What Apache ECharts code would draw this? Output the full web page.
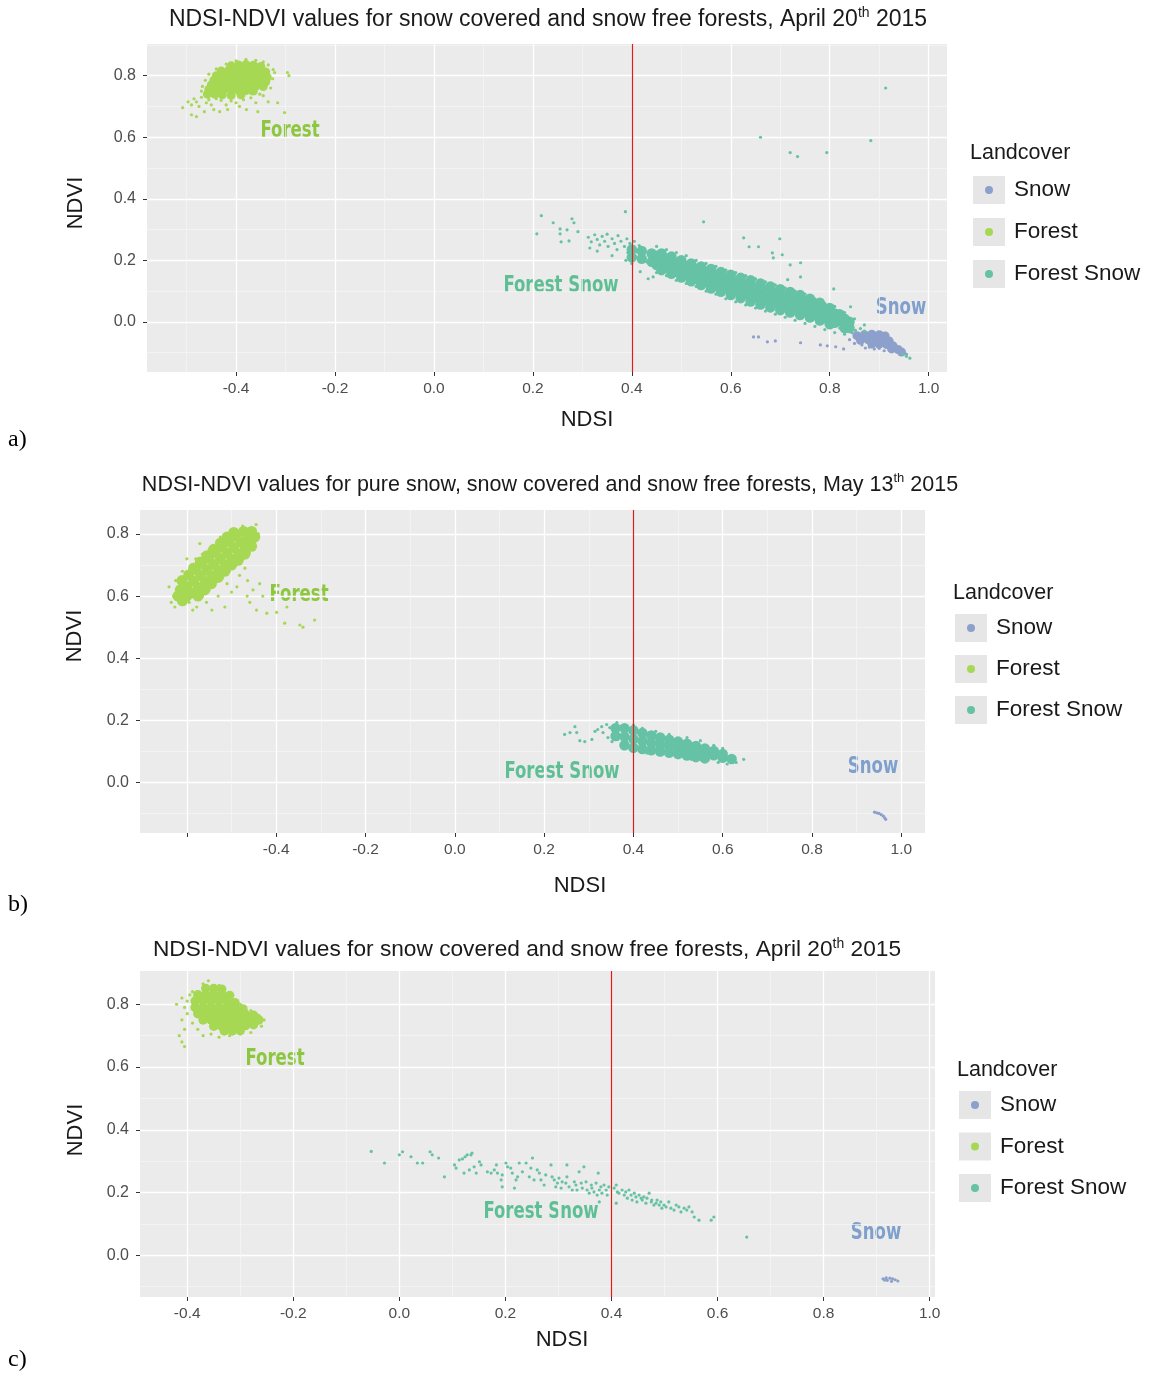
<!DOCTYPE html>
<html>
<head>
<meta charset="utf-8">
<script src="https://cdn.jsdelivr.net/npm/echarts@6/dist/echarts.min.js"></script>
<style>
  html, body { margin: 0; padding: 0; background: #fff; }
  #chart { width: 1151px; height: 1376px; }
</style>
</head>
<body>
<div id="chart"></div>
<script>
// Landcover classes and threshold
const landcovers = ['Snow', 'Forest', 'Forest Snow'];
const ndsiThreshold = 0.4;

// Tick values
const xTicks = [-0.4, -0.2, 0, 0.2, 0.4, 0.6, 0.8, 1.0];
const xTicksB = [-0.6, -0.4, -0.2, 0, 0.2, 0.4, 0.6, 0.8, 1.0];
const xMinor = [-0.5, -0.3, -0.1, 0.1, 0.3, 0.5, 0.7, 0.9];
const xMinorC = [-0.3, -0.1, 0.1, 0.3, 0.5, 0.7, 0.9];
const yTicks = [0, 0.2, 0.4, 0.6, 0.8];
const yMinor = [-0.1, 0.1, 0.3, 0.5, 0.7];
const yMinorA = [-0.1, 0.1, 0.3, 0.5, 0.7, 0.9];

// ---------- a) April 20th ----------
const forestCoreA = [
  [-0.41,0.832],[-0.395,0.835],[-0.38,0.836],[-0.365,0.834],[-0.35,0.83],
  [-0.43,0.815],[-0.415,0.818],[-0.40,0.82],[-0.385,0.82],[-0.37,0.818],[-0.355,0.816],[-0.34,0.812],
  [-0.44,0.80],[-0.425,0.80],[-0.41,0.802],[-0.395,0.80],[-0.38,0.80],[-0.365,0.80],[-0.35,0.798],[-0.337,0.795],
  [-0.445,0.785],[-0.43,0.785],[-0.415,0.786],[-0.40,0.785],[-0.385,0.785],[-0.37,0.784],[-0.355,0.782],[-0.34,0.78],
  [-0.45,0.77],[-0.435,0.77],[-0.42,0.77],[-0.405,0.77],[-0.39,0.768],[-0.375,0.768],[-0.36,0.766],[-0.345,0.765],
  [-0.455,0.755],[-0.44,0.755],[-0.425,0.755],[-0.41,0.754],[-0.395,0.752],[-0.38,0.752],[-0.365,0.75],
  [-0.458,0.74],[-0.443,0.74],[-0.428,0.738],[-0.41,0.736],[-0.39,0.738]
];
const forestA = [
  [-0.508,0.696],[-0.49,0.673],[-0.48,0.667],[-0.464,0.683],[-0.433,0.683],[-0.417,0.69],[-0.393,0.70],
  [-0.379,0.69],[-0.356,0.683],[-0.316,0.712],[-0.302,0.68],[-0.296,0.81],[-0.322,0.81],[-0.293,0.80],
  [-0.47,0.73],[-0.48,0.715],[-0.49,0.705],[-0.475,0.70],[-0.46,0.712],[-0.45,0.705],[-0.445,0.69],
  [-0.43,0.72],[-0.42,0.705],[-0.41,0.718],[-0.40,0.712],[-0.385,0.722],[-0.37,0.728],[-0.36,0.712],
  [-0.345,0.735],[-0.335,0.715],[-0.33,0.76],[-0.326,0.79],[-0.325,0.82],[-0.335,0.835],[-0.345,0.845],
  [-0.36,0.85],[-0.38,0.853],[-0.40,0.848],[-0.42,0.838],[-0.44,0.822],[-0.455,0.805],[-0.462,0.785],
  [-0.468,0.765],[-0.47,0.75],[-0.485,0.725],[-0.497,0.715],[-0.455,0.722],[-0.44,0.725],[-0.352,0.74],[-0.37,0.742]
];
const forestSnowCoreA = [
  [0.40,0.235],[0.40,0.21],[0.42,0.23],[0.42,0.205],
  [0.44,0.222],[0.44,0.195],
  [0.46,0.222],[0.46,0.195],[0.46,0.168],
  [0.48,0.212],[0.48,0.184],[0.48,0.156],
  [0.50,0.20],[0.50,0.172],[0.50,0.144],
  [0.52,0.19],[0.52,0.161],[0.52,0.132],
  [0.54,0.18],[0.54,0.150],[0.54,0.12],
  [0.56,0.172],[0.56,0.140],[0.56,0.108],
  [0.58,0.162],[0.58,0.130],[0.58,0.098],
  [0.60,0.153],[0.60,0.120],[0.60,0.087],
  [0.62,0.143],[0.62,0.110],[0.62,0.077],
  [0.64,0.135],[0.64,0.100],[0.64,0.066],
  [0.66,0.125],[0.66,0.090],[0.66,0.056],
  [0.68,0.115],[0.68,0.081],[0.68,0.047],
  [0.70,0.106],[0.70,0.072],[0.70,0.038],
  [0.72,0.097],[0.72,0.064],[0.72,0.030],
  [0.74,0.087],[0.74,0.055],[0.74,0.022],
  [0.76,0.075],[0.76,0.045],[0.76,0.014],
  [0.78,0.062],[0.78,0.033],[0.78,0.004],
  [0.80,0.045],[0.80,0.018],[0.80,-0.008],
  [0.82,0.025],[0.82,0.002],
  [0.84,0.0],[0.84,-0.02],
  [0.45,0.215],[0.45,0.185],[0.47,0.205],[0.47,0.175],[0.49,0.193],[0.49,0.163],[0.51,0.181],[0.51,0.151],
  [0.53,0.17],[0.53,0.14],[0.55,0.16],[0.55,0.13],[0.57,0.15],[0.57,0.12],[0.59,0.14],[0.59,0.11],
  [0.61,0.13],[0.61,0.10],[0.63,0.12],[0.63,0.09],[0.65,0.11],[0.65,0.08],[0.67,0.10],[0.67,0.07],
  [0.69,0.091],[0.69,0.061],[0.71,0.083],[0.71,0.053],[0.73,0.075],[0.73,0.045],[0.75,0.065],[0.75,0.035],
  [0.77,0.055],[0.77,0.025],[0.79,0.042],[0.79,0.012],[0.81,0.027],[0.81,-0.003],[0.83,0.01],[0.83,-0.02]
];
const forestSnowA = [
  [0.312,0.275],[0.318,0.26],[0.325,0.283],[0.33,0.268],[0.335,0.25],[0.34,0.278],[0.345,0.262],[0.35,0.285],
  [0.352,0.245],[0.36,0.27],[0.365,0.255],[0.37,0.235],[0.372,0.28],[0.378,0.262],[0.385,0.245],[0.39,0.27],
  [0.392,0.225],[0.396,0.255],[0.40,0.24],[0.402,0.205],[0.405,0.262],[0.41,0.228],[0.415,0.248],[0.42,0.21],
  [0.425,0.238],[0.43,0.195],[0.315,0.24],[0.33,0.23],[0.36,0.215],[0.388,0.20],[0.40,0.19],
  [0.217,0.345],[0.241,0.322],[0.255,0.302],[0.269,0.299],[0.279,0.335],[0.283,0.322],[0.291,0.293],
  [0.255,0.286],[0.273,0.263],[0.257,0.26],[0.208,0.286],[0.387,0.358],[0.545,0.325],[0.626,0.273],
  [0.637,0.244],[0.656,0.244],[0.699,0.27],[0.684,0.224],[0.686,0.208],[0.704,0.218],[0.72,0.185],
  [0.741,0.192],[0.741,0.146],[0.715,0.137],[0.808,0.107],[0.842,0.049],[0.433,0.14],[0.443,0.146],[0.417,0.163],
  [0.66,0.60],[0.72,0.55],[0.735,0.537],[0.794,0.55],[0.883,0.589],[0.913,0.76],
  [0.45,0.245],[0.47,0.235],[0.49,0.225],[0.51,0.215],[0.53,0.20],[0.55,0.19],[0.57,0.18],[0.59,0.168],
  [0.61,0.16],[0.63,0.15],[0.65,0.14],[0.67,0.13],[0.69,0.12],[0.71,0.11],[0.73,0.10],[0.75,0.09],
  [0.77,0.075],[0.79,0.06],[0.81,0.05],[0.83,0.03],[0.85,0.01],[0.87,-0.01],
  [0.45,0.16],[0.47,0.15],[0.49,0.135],[0.51,0.125],[0.53,0.115],[0.55,0.10],[0.57,0.09],[0.59,0.075],
  [0.61,0.065],[0.63,0.055],[0.65,0.045],[0.67,0.035],[0.69,0.025],[0.71,0.015],[0.73,0.005],[0.75,-0.005],
  [0.77,-0.015],[0.79,-0.025],[0.81,-0.035],[0.83,-0.04],
  [0.84,-0.02],[0.852,-0.028],[0.862,-0.022],[0.87,-0.03],[0.948,-0.105],[0.955,-0.112],[0.962,-0.118],
  [0.82,-0.02],[0.83,-0.035]
];
const snowCoreA = [
  [0.855,-0.045],[0.87,-0.042],[0.885,-0.04],[0.90,-0.042],[0.912,-0.046],
  [0.862,-0.06],[0.877,-0.058],[0.892,-0.056],[0.907,-0.058],[0.92,-0.062],
  [0.885,-0.072],[0.90,-0.072],[0.915,-0.074],[0.928,-0.078],
  [0.925,-0.088],[0.938,-0.09],[0.945,-0.098]
];
const snowA = [
  [0.85,-0.07],[0.865,-0.075],[0.872,-0.085],[0.88,-0.082],[0.89,-0.088],[0.90,-0.086],[0.91,-0.094],
  [0.955,-0.105],[0.84,-0.058],[0.845,-0.035],[0.646,-0.049],[0.656,-0.049],[0.674,-0.065],[0.69,-0.062],
  [0.741,-0.068],[0.781,-0.075],[0.795,-0.078],[0.812,-0.081],[0.828,-0.088]
];

// ---------- b) May 13th ----------
const forestCoreB = [
  [-0.60,0.63],[-0.589,0.61],[-0.611,0.65],[-0.60,0.60],[-0.615,0.62],[-0.62,0.60],[-0.61,0.585],
  [-0.585,0.648],[-0.574,0.628],[-0.596,0.668],
  [-0.57,0.666],[-0.559,0.646],[-0.581,0.686],
  [-0.555,0.684],[-0.544,0.664],[-0.566,0.704],
  [-0.54,0.702],[-0.529,0.682],[-0.551,0.722],
  [-0.525,0.72],[-0.514,0.70],[-0.536,0.74],
  [-0.51,0.738],[-0.499,0.718],[-0.521,0.758],
  [-0.495,0.756],[-0.484,0.736],[-0.506,0.776],
  [-0.48,0.774],[-0.469,0.754],[-0.491,0.794],
  [-0.465,0.792],[-0.458,0.775],[-0.473,0.808],
  [-0.455,0.808],
  [-0.585,0.69],[-0.57,0.71],[-0.555,0.73],[-0.54,0.75],[-0.525,0.77],[-0.51,0.79],[-0.495,0.805],
  [-0.575,0.60],[-0.56,0.62],[-0.545,0.64],[-0.53,0.66],[-0.515,0.68],[-0.50,0.70],[-0.485,0.715],
  [-0.47,0.735],[-0.455,0.76],[-0.448,0.79]
];
const forestB = [
  [-0.63,0.60],[-0.635,0.58],[-0.627,0.565],[-0.616,0.58],[-0.587,0.555],[-0.578,0.565],[-0.544,0.555],
  [-0.515,0.565],[-0.556,0.58],[-0.50,0.613],[-0.488,0.63],[-0.482,0.667],[-0.464,0.65],[-0.437,0.64],
  [-0.452,0.62],[-0.459,0.58],[-0.444,0.555],[-0.421,0.545],[-0.399,0.548],[-0.381,0.513],[-0.347,0.507],
  [-0.34,0.50],[-0.314,0.523],[-0.376,0.565],[-0.571,0.769],[-0.542,0.763],[-0.525,0.79],[-0.50,0.81],
  [-0.475,0.825],[-0.445,0.83],[-0.44,0.80],[-0.45,0.77],[-0.46,0.74],[-0.475,0.72],[-0.49,0.70],
  [-0.505,0.68],[-0.52,0.66],[-0.535,0.645],[-0.55,0.62],[-0.565,0.60],[-0.58,0.59],[-0.595,0.58],
  [-0.60,0.72],[-0.59,0.70],[-0.58,0.72],[-0.565,0.735],[-0.55,0.75],[-0.61,0.68],[-0.625,0.65],
  [-0.64,0.63],[-0.53,0.60],[-0.51,0.64],[-0.47,0.69],[-0.465,0.60],[-0.43,0.60]
];
const forestSnowCoreB = [
  [0.36,0.175],[0.36,0.15],
  [0.38,0.175],[0.38,0.148],[0.38,0.12],
  [0.40,0.168],[0.40,0.14],[0.40,0.112],
  [0.42,0.16],[0.42,0.134],[0.42,0.108],
  [0.44,0.152],[0.44,0.128],[0.44,0.104],
  [0.46,0.145],[0.46,0.122],[0.46,0.10],
  [0.48,0.138],[0.48,0.117],[0.48,0.096],
  [0.50,0.132],[0.50,0.112],[0.50,0.092],
  [0.52,0.125],[0.52,0.106],[0.52,0.087],
  [0.54,0.118],[0.54,0.10],[0.54,0.082],
  [0.56,0.11],[0.56,0.094],[0.56,0.078],
  [0.58,0.102],[0.58,0.088],
  [0.60,0.092],[0.60,0.08],
  [0.62,0.076]
];
const forestSnowB = [
  [0.246,0.155],[0.258,0.161],[0.269,0.18],[0.273,0.161],[0.28,0.135],[0.291,0.132],[0.307,0.139],
  [0.314,0.165],[0.32,0.171],[0.329,0.18],[0.332,0.161],[0.34,0.187],[0.347,0.177],[0.363,0.193],
  [0.37,0.18],[0.376,0.171],[0.358,0.161],[0.343,0.145],[0.352,0.132],[0.365,0.139],[0.381,0.148],[0.385,0.129],
  [0.40,0.185],[0.42,0.175],[0.45,0.165],[0.48,0.155],[0.52,0.145],[0.55,0.135],[0.58,0.12],[0.60,0.11],
  [0.40,0.10],[0.43,0.095],[0.46,0.09],[0.50,0.08],[0.53,0.075],[0.56,0.07],[0.59,0.065],[0.61,0.06],
  [0.625,0.07],[0.63,0.065],[0.647,0.075]
];
const snowB = [
  [0.940,-0.095],[0.945,-0.097],[0.950,-0.099],[0.955,-0.103],[0.960,-0.108],[0.963,-0.114],[0.965,-0.118]
];

// ---------- c) April 20th ----------
const forestCoreC = [
  [-0.365,0.85],[-0.35,0.85],[-0.335,0.848],
  [-0.38,0.83],[-0.365,0.83],[-0.35,0.83],[-0.335,0.83],[-0.32,0.828],
  [-0.385,0.81],[-0.37,0.81],[-0.355,0.81],[-0.34,0.81],[-0.325,0.81],[-0.31,0.805],
  [-0.385,0.79],[-0.37,0.79],[-0.355,0.79],[-0.34,0.79],[-0.325,0.79],[-0.31,0.79],[-0.295,0.785],
  [-0.38,0.77],[-0.365,0.77],[-0.35,0.77],[-0.335,0.77],[-0.32,0.77],[-0.305,0.77],[-0.29,0.768],[-0.275,0.765],
  [-0.37,0.75],[-0.355,0.75],[-0.34,0.75],[-0.325,0.75],[-0.31,0.75],[-0.295,0.75],[-0.28,0.75],[-0.265,0.75],
  [-0.35,0.73],[-0.335,0.73],[-0.32,0.73],[-0.305,0.73],[-0.29,0.732],[-0.275,0.735],
  [-0.33,0.715],[-0.315,0.715],[-0.30,0.716]
];
const forestC = [
  [-0.41,0.82],[-0.40,0.81],[-0.395,0.83],[-0.42,0.80],[-0.405,0.79],[-0.40,0.77],[-0.41,0.75],
  [-0.405,0.72],[-0.415,0.70],[-0.41,0.68],[-0.405,0.665],[-0.39,0.74],[-0.38,0.72],[-0.37,0.70],
  [-0.355,0.705],[-0.34,0.695],[-0.32,0.70],[-0.30,0.705],[-0.28,0.71],[-0.26,0.73],[-0.255,0.75],
  [-0.265,0.765],[-0.28,0.78],[-0.30,0.80],[-0.32,0.83],[-0.34,0.86],[-0.37,0.865],[-0.36,0.875],[-0.39,0.84]
];
const forestSnowC = [
  [-0.053,0.331],[-0.028,0.294],[0.0,0.32],[0.006,0.33],[0.022,0.314],[0.034,0.294],[0.044,0.294],
  [0.058,0.33],[0.062,0.32],[0.074,0.31],[0.085,0.25],[0.104,0.288],[0.107,0.278],[0.113,0.304],
  [0.119,0.307],[0.124,0.314],[0.128,0.32],[0.135,0.32],[0.137,0.326],[0.122,0.262],[0.132,0.272],
  [0.141,0.282],[0.151,0.298],[0.154,0.288],[0.145,0.262],[0.166,0.266],[0.173,0.262],[0.179,0.272],
  [0.183,0.288],[0.185,0.262],[0.192,0.24],[0.194,0.256],[0.201,0.294],[0.204,0.282],[0.21,0.278],
  [0.213,0.262],[0.22,0.24],[0.223,0.25],[0.194,0.218],[0.217,0.214],[0.226,0.294],[0.232,0.266],
  [0.239,0.294],[0.245,0.25],[0.248,0.278],[0.251,0.31],[0.254,0.24],[0.26,0.272],[0.264,0.262],
  [0.267,0.24],[0.273,0.224],[0.276,0.256],[0.286,0.288],[0.288,0.25],[0.292,0.24],[0.295,0.218],
  [0.298,0.23],[0.301,0.246],[0.305,0.214],[0.307,0.234],[0.314,0.23],[0.316,0.288],[0.316,0.25],
  [0.32,0.218],[0.326,0.208],[0.33,0.234],[0.333,0.224],[0.335,0.208],[0.339,0.266],[0.343,0.23],
  [0.345,0.214],[0.348,0.282],[0.352,0.234],[0.354,0.208],[0.358,0.198],[0.362,0.224],[0.363,0.214],
  [0.367,0.202],[0.371,0.23],[0.373,0.192],[0.375,0.262],[0.377,0.208],[0.38,0.218],[0.382,0.198],
  [0.386,0.224],[0.39,0.208],[0.392,0.192],[0.377,0.17],[0.395,0.218],
  [0.405,0.214],[0.409,0.224],[0.411,0.202],[0.414,0.198],[0.409,0.166],[0.42,0.208],[0.424,0.192],
  [0.427,0.202],[0.43,0.182],[0.433,0.208],[0.437,0.192],[0.439,0.176],[0.443,0.198],[0.446,0.186],
  [0.448,0.17],[0.452,0.192],[0.456,0.182],[0.458,0.176],[0.461,0.186],[0.465,0.166],[0.467,0.182],
  [0.471,0.198],[0.475,0.17],[0.476,0.176],[0.48,0.16],[0.484,0.166],[0.486,0.176],[0.49,0.16],
  [0.493,0.17],[0.495,0.15],[0.499,0.16],[0.503,0.154],[0.508,0.17],[0.512,0.15],[0.518,0.144],
  [0.522,0.16],[0.527,0.154],[0.531,0.138],[0.537,0.15],[0.542,0.144],[0.546,0.154],[0.552,0.138],
  [0.556,0.122],[0.565,0.112],[0.588,0.112],[0.593,0.122],[0.655,0.058]
];
const snowC = [
  [0.912,-0.075],[0.918,-0.072],[0.925,-0.073],[0.93,-0.075],[0.935,-0.078],[0.94,-0.082],
  [0.92,-0.08],[0.928,-0.083],[0.915,-0.079]
];

// ---------- layout ----------
const FONT = "'Liberation Sans', Arial, sans-serif";
const LABEL_FONT = "'Liberation Sans Narrow', 'DejaVu Sans Condensed', 'Open Sans', sans-serif";
const colors = { 'Snow': '#8DA0CB', 'Forest': '#A6D854', 'Forest Snow': '#66C2A5' };

const panels = [
  { grid: { left: 147, top: 44, width: 800, height: 328 }, x: [-0.58, 1.037], y: [-0.163, 0.903],
    xTickVals: xTicks, xLabelVals: xTicks, xMinorVals: xMinor, yMinorVals: yMinorA,
    coreSize: { 'Snow': 9, 'Forest': 9, 'Forest Snow': 10.5 },
    data: { 'Snow': [snowCoreA, snowA], 'Forest': [forestCoreA, forestA], 'Forest Snow': [forestSnowCoreA, forestSnowA] } },
  { grid: { left: 140, top: 510, width: 785, height: 323 }, x: [-0.705, 1.053], y: [-0.162, 0.877],
    xTickVals: xTicksB, xLabelVals: xTicks, xMinorVals: xMinor, yMinorVals: yMinor,
    coreSize: { 'Snow': 9, 'Forest': 11, 'Forest Snow': 10.5 },
    data: { 'Snow': [[], snowB], 'Forest': [forestCoreB, forestB], 'Forest Snow': [forestSnowCoreB, forestSnowB] } },
  { grid: { left: 140, top: 971, width: 795, height: 326 }, x: [-0.489, 1.01], y: [-0.133, 0.906],
    xTickVals: xTicks, xLabelVals: xTicks, xMinorVals: xMinorC, yMinorVals: yMinor,
    coreSize: { 'Snow': 9, 'Forest': 9.5, 'Forest Snow': 9 },
    data: { 'Snow': [[], snowC], 'Forest': [forestCoreC, forestC], 'Forest Snow': [[], forestSnowC] } }
];

const grids = [], xAxes = [], yAxes = [], series = [], legends = [];
const fmt = v => v.toFixed(1);

panels.forEach((p, g) => {
  grids.push(Object.assign({ show: true, backgroundColor: '#EBEBEB', borderWidth: 0 }, p.grid));

  // major axes
  xAxes.push({
    gridIndex: g, type: 'value', min: p.x[0], max: p.x[1],
    axisLine: { show: false, onZero: false },
    axisTick: { show: true, length: 4, lineStyle: { color: '#333' }, customValues: p.xTickVals },
    axisLabel: { color: '#4D4D4D', fontSize: 15.5, fontFamily: FONT, margin: 9, customValues: p.xLabelVals, formatter: fmt },
    splitLine: { show: true, lineStyle: { color: '#fff', width: 1.3 } }
  });
  yAxes.push({
    gridIndex: g, type: 'value', min: p.y[0], max: p.y[1],
    axisLine: { show: false, onZero: false },
    axisTick: { show: true, length: 4, lineStyle: { color: '#333' }, customValues: yTicks },
    axisLabel: { color: '#4D4D4D', fontSize: 16, fontFamily: FONT, margin: 11, customValues: yTicks, formatter: fmt },
    splitLine: { show: true, lineStyle: { color: '#fff', width: 1.3 } }
  });
  // minor grid lines
  xAxes.push({
    gridIndex: g, type: 'value', min: p.x[0], max: p.x[1],
    axisLine: { show: false, onZero: false }, axisLabel: { show: false },
    axisTick: { show: false, customValues: p.xMinorVals },
    splitLine: { show: true, lineStyle: { color: '#F7F7F7', width: 0.7 } }
  });
  yAxes.push({
    gridIndex: g, type: 'value', min: p.y[0], max: p.y[1],
    axisLine: { show: false, onZero: false }, axisLabel: { show: false },
    axisTick: { show: false, customValues: p.yMinorVals },
    splitLine: { show: true, lineStyle: { color: '#F7F7F7', width: 0.7 } }
  });

  landcovers.forEach(name => {
    const [core, spread] = p.data[name];
    if (core.length) {
      series.push({
        name, type: 'scatter', xAxisIndex: 2 * g, yAxisIndex: 2 * g,
        symbolSize: p.coreSize[name], data: core, itemStyle: { color: colors[name], opacity: 1 }, silent: true
      });
    }
    const s = {
      name, type: 'scatter', xAxisIndex: 2 * g, yAxisIndex: 2 * g,
      symbolSize: 3.2, data: spread, itemStyle: { color: colors[name], opacity: 1 }, silent: true
    };
    if (name === 'Forest Snow') {
      s.markLine = {
        silent: true, symbol: 'none', label: { show: false },
        lineStyle: { color: '#E41A1C', width: 1.2, type: 'solid' },
        emphasis: { disabled: true },
        data: [{ xAxis: ndsiThreshold }]
      };
    }
    series.push(s);
  });
});

// legend positions (icon left edge, first item top)
const legendSpots = [
  { left: 985, top: 176, keyX: 973, title: [970, 153] },
  { left: 967, top: 614, keyX: 955, title: [953, 593] },
  { left: 971, top: 1091, keyX: 959, title: [957, 1070] }
];
const legendStep = [42, 41, 41.5];

const graphics = [];
legendSpots.forEach((L, i) => {
  legends.push({
    orient: 'vertical', left: L.left, top: L.top, padding: 0,
    itemGap: legendStep[i] - 28, itemWidth: 8, itemHeight: 8, icon: 'circle',
    data: landcovers, selectedMode: false,
    textStyle: { fontSize: 22.5, lineHeight: 28, color: '#1A1A1A', fontFamily: FONT, padding: [0, 0, 0, 16] }
  });
  landcovers.forEach((n, k) => {
    graphics.push({ type: 'rect', z: -1, shape: { x: L.keyX, y: L.top + k * legendStep[i], width: 32, height: 28 },
      style: { fill: '#E6E6E6' } });
  });
  graphics.push({ type: 'text', x: L.title[0], y: L.title[1],
    style: { text: 'Landcover', fontSize: 21.5, fontFamily: FONT, fill: '#1A1A1A', verticalAlign: 'middle' } });
});

function titleText(x, y, pre, sup, post, size) {
  return { type: 'text', x, y, style: {
    text: '{m|' + pre + '}{s|' + sup + '}{m|' + post + '}', align: 'center', verticalAlign: 'middle',
    rich: {
      m: { fontSize: size, fontFamily: FONT, fill: '#1A1A1A', lineHeight: size + 4 },
      s: { fontSize: Math.round(size * 0.6), fontFamily: FONT, fill: '#1A1A1A', verticalAlign: 'top', lineHeight: size * 0.6 }
    } } };
}
graphics.push(titleText(548, 20, 'NDSI-NDVI values for snow covered and snow free forests, April 20', 'th', ' 2015', 23));
graphics.push(titleText(550, 485, 'NDSI-NDVI values for pure snow, snow covered and snow free forests, May 13', 'th', ' 2015', 21.5));
graphics.push(titleText(527, 950, 'NDSI-NDVI values for snow covered and snow free forests, April 20', 'th', ' 2015', 22.7));

function plain(x, y, text, size, opts) {
  return Object.assign({ type: 'text', x, y, style: Object.assign({
    text, fontSize: size, fontFamily: FONT, fill: '#1A1A1A', align: 'center', verticalAlign: 'middle' }, opts || {}) });
}
// axis titles
[[587, 420], [580, 886], [562, 1340]].forEach(([x, y]) => graphics.push(plain(x, y, 'NDSI', 22)));
[[76, 203], [75, 636], [76, 1130]].forEach(([x, y]) => {
  const t = plain(x, y, 'NDVI', 22); t.rotation = Math.PI / 2; graphics.push(t);
});
// panel letters
[[8, 440, 'a)'], [8, 905, 'b)'], [8, 1360, 'c)']].forEach(([x, y, s]) =>
  graphics.push(plain(x, y, s, 24, { align: 'left', fontFamily: "'Liberation Serif', serif", fill: '#000' })));

// in-plot class labels (condensed bold)
const labelColors = { 'Forest': '#8DC63F', 'Forest Snow': '#5FBF94', 'Snow': '#7F9FCC' };
[
  [290, 131, 'Forest'], [561, 286, 'Forest Snow'], [901, 308, 'Snow'],
  [299, 595, 'Forest'], [562, 772, 'Forest Snow'], [873, 767, 'Snow'],
  [275, 1059, 'Forest'], [541, 1212, 'Forest Snow'], [876, 1233, 'Snow']
].forEach(([x, y, s]) => {
  const t = plain(0, 0, s, 23, { fontFamily: LABEL_FONT, fontWeight: 'bold', fill: labelColors[s] });
  t.x = x; t.y = y; t.scaleX = 0.8;
  graphics.push(t);
});

const chart = echarts.init(document.getElementById('chart'));
chart.setOption({
  animation: false,
  backgroundColor: '#fff',
  grid: grids,
  xAxis: xAxes,
  yAxis: yAxes,
  legend: legends,
  series: series,
  graphic: graphics
});
</script>
</body>
</html>
